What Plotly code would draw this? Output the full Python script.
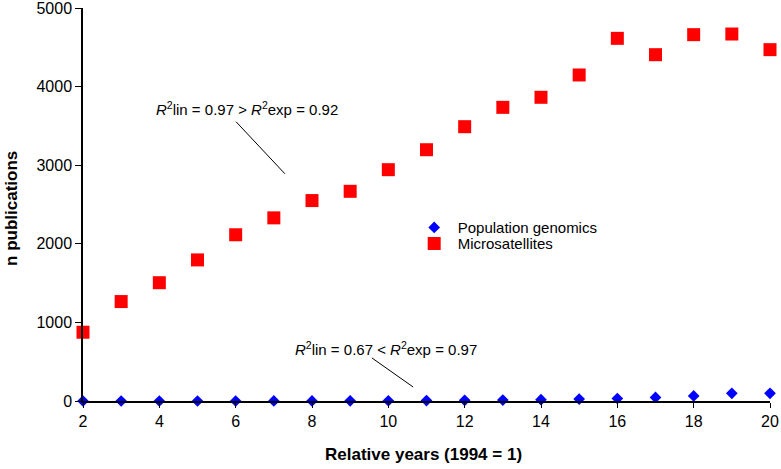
import plotly.graph_objects as go

years = list(range(2, 21))
microsatellites = [875, 1265, 1505, 1795, 2115, 2330, 2550, 2668, 2943, 3197, 3490, 3736, 3864, 4148, 4614, 4406, 4661, 4669, 4470]
pop_genomics = [0, 0, 0, 0, 0, 1, 1, 2, 3, 5, 9, 12, 17, 24, 32, 45, 65, 98, 98]

x_ticks = list(range(2, 21, 2))
y_ticks = [0, 1000, 2000, 3000, 4000, 5000]

font = "Liberation Sans, Arial, sans-serif"

fig = go.Figure()
fig.add_trace(go.Scatter(x=years, y=pop_genomics, mode="markers", name="Population genomics",
                         marker=dict(symbol="diamond", size=9, color="#0000ff"), cliponaxis=False,
                         legend="legend"))
fig.add_trace(go.Scatter(x=years, y=microsatellites, mode="markers", name="Microsatellites",
                         marker=dict(symbol="square", size=13, color="#ff0000"), cliponaxis=False,
                         legend="legend2"))

fig.add_annotation(x=6.3, y=3718, xref="x", yref="y", showarrow=False,
                   text="<i>R</i><sup>2</sup>lin = 0.97 &gt; <i>R</i><sup>2</sup>exp = 0.92",
                   font=dict(family=font, size=15, color="black"))
fig.add_annotation(x=9.95, y=662, xref="x", yref="y", showarrow=False,
                   text="<i>R</i><sup>2</sup>lin = 0.67 &lt; <i>R</i><sup>2</sup>exp = 0.97",
                   font=dict(family=font, size=15, color="black"))
fig.add_shape(type="line", xref="x", yref="y", x0=6.01, y0=3553, x1=7.29, y1=2891,
              line=dict(color="black", width=1))
fig.add_shape(type="line", xref="x", yref="y", x0=9.57, y0=548, x1=10.65, y1=178,
              line=dict(color="black", width=1))

# axis titles placed as annotations for exact positioning
fig.add_annotation(x=-0.104, y=0.49, xref="paper", yref="paper", showarrow=False,
                   text="<b>n publications</b>", textangle=-90, xanchor="center", yanchor="middle",
                   font=dict(family=font, size=17, color="black"))
fig.add_annotation(x=0.4956, y=-0.137, xref="paper", yref="paper", showarrow=False,
                   text="<b>Relative years (1994 = 1)</b>", xanchor="center", yanchor="middle",
                   font=dict(family=font, size=17, color="black"))

leg_common = dict(xanchor="left", yanchor="top", itemwidth=37,
                  bgcolor="rgba(0,0,0,0)", font=dict(size=15), tracegroupgap=0)
fig.update_layout(
    width=781, height=469,
    margin=dict(l=83, r=11, t=8, b=68),
    plot_bgcolor="white", paper_bgcolor="white",
    font=dict(family=font, size=15, color="black"),
    showlegend=True,
    legend=dict(x=0.477, y=0.483, **leg_common),
    legend2=dict(x=0.477, y=0.442, **leg_common),
)
fig.update_xaxes(range=[2, 20], tickvals=x_ticks, ticks="outside", ticklen=5, tickcolor="black",
                 tickfont=dict(size=16), ticklabeloverflow="allow", automargin=False,
                 showline=True, linecolor="black", linewidth=1.5, showgrid=False, zeroline=False)
fig.update_yaxes(range=[0, 5000], tickvals=y_ticks, ticks="outside", ticklen=6, tickcolor="black",
                 tickfont=dict(size=16), ticklabeloverflow="allow", automargin=False,
                 showline=True, linecolor="black", linewidth=1.5, showgrid=False, zeroline=False)

fig.write_html("out.html", config={"displayModeBar": False},
               post_script="document.body.style.margin='0';")
